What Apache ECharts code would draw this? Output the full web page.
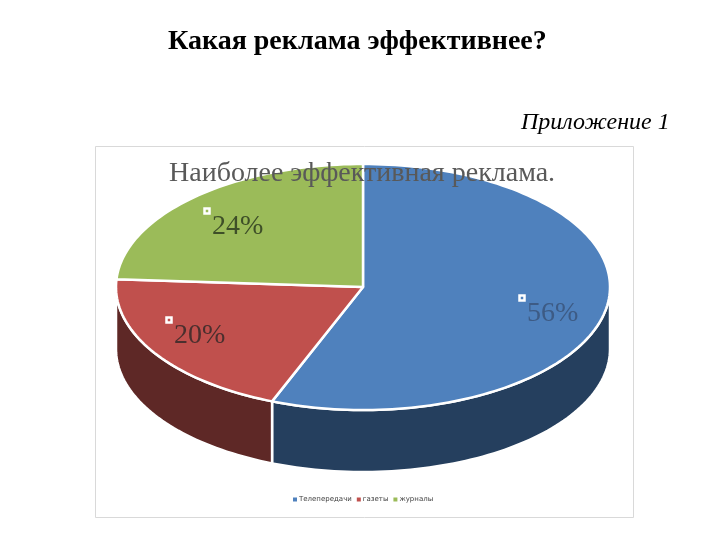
<!DOCTYPE html>
<html><head><meta charset="utf-8">
<style>html,body{margin:0;padding:0;background:#fff}#c{width:720px;height:540px}</style>
<script src="https://cdn.jsdelivr.net/npm/echarts@6/dist/echarts.min.js"></script>
</head><body><div id="c"></div>
<script>
const categories = ["Телепередачи", "газеты", "журналы"];
const shares = [56, 20, 24];
const labelsText = ["56%", "20%", "24%"];

const topColors = ["#4F81BD", "#C0504D", "#9BBB59"];
const wallColors = ["#253F5E", "#5E2826", "#4D5E2C"];
const labelColors = ["#3D5B85", "#4A2F2E", "#3E4F28"];
const anchors = [[522, 298], [169, 320], [207, 211]];
const cx = 363, cy = 287, rx = 247, ry = 123, depth = 62;

const total = shares.reduce((a, b) => a + b, 0);
const starts = [];
shares.reduce((acc, v, i) => { starts[i] = acc; return acc + v; }, 0);

function pt(deg, dy) {
  const a = deg * Math.PI / 180;
  return [cx + rx * Math.sin(a), cy - ry * Math.cos(a) + (dy || 0)];
}
function arc(a0, a1, dy) {
  const n = Math.max(2, Math.ceil(Math.abs(a1 - a0) / 1.5)), out = [];
  for (let i = 0; i <= n; i++) out.push(pt(a0 + (a1 - a0) * i / n, dy));
  return out;
}
function makeRender(i) {
  return function (params, api) {
    const v = api.value(0);
    const a0 = starts[i] / total * 360, a1 = a0 + v / total * 360;
    const children = [];
    const w0 = Math.max(a0, 90), w1 = Math.min(a1, 270);
    if (w1 > w0) {
      children.push({
        type: 'polygon', z2: 1,
        shape: { points: arc(w0, w1, 0).concat(arc(w1, w0, depth)) },
        style: { fill: wallColors[i], stroke: '#fff', lineWidth: 2.5 }
      });
    }
    children.push({
      type: 'polygon', z2: 2,
      shape: { points: [[cx, cy]].concat(arc(a0, a1, 0)) },
      style: { fill: topColors[i], stroke: '#fff', lineWidth: 2.5, lineJoin: 'round' }
    });
    const [mx, my] = anchors[i];
    children.push({
      type: 'rect', z2: 3,
      shape: { x: mx - 2.5, y: my - 2.5, width: 5, height: 5 },
      style: { fill: topColors[i], stroke: '#fff', lineWidth: 2.5 }
    });
    children.push({
      type: 'text', z2: 4, x: mx + 5, y: my + 2,
      style: { text: labelsText[i], fill: labelColors[i],
        font: '28px "Liberation Serif"', textAlign: 'left', textVerticalAlign: 'top' }
    });
    return { type: 'group', children };
  };
}

const chart = echarts.init(document.getElementById('c'), null, { renderer: 'canvas' });
chart.setOption({
  animation: false,
  backgroundColor: '#fff',
  title: [
    { text: 'Какая реклама эффективнее?', left: 163, top: 23, z: 10,
      textStyle: { fontFamily: 'Liberation Serif', fontWeight: 'bold', fontSize: 28, color: '#000' } },
    { text: 'Приложение 1', left: 516, top: 106, z: 10,
      textStyle: { fontFamily: 'Liberation Serif', fontStyle: 'italic', fontWeight: 'normal', fontSize: 24, color: '#000' } },
    { text: 'Наиболее эффективная реклама.', left: 164, top: 155, z: 10,
      textStyle: { fontFamily: 'Liberation Serif', fontWeight: 'normal', fontSize: 28, color: '#595959' } }
  ],
  graphic: [{
    type: 'rect', z: 0, silent: true,
    shape: { x: 95.5, y: 146.5, width: 538, height: 371 },
    style: { fill: '#fff', stroke: '#D9D9D9', lineWidth: 1 }
  }],
  legend: {
    data: categories, left: 288, top: 491, itemWidth: 4, itemHeight: 4, itemGap: 5,
    icon: 'rect',
    textStyle: { fontFamily: 'DejaVu Sans', fontSize: 7, color: '#404040', padding: [0, 0, 0, -3] }
  },
  series: categories.map((name, i) => ({
    type: 'custom', name, coordinateSystem: 'none', z: 2,
    renderItem: makeRender(i),
    itemStyle: { color: topColors[i] },
    data: [[shares[i]]],
    silent: true
  }))
});
</script></body></html>
